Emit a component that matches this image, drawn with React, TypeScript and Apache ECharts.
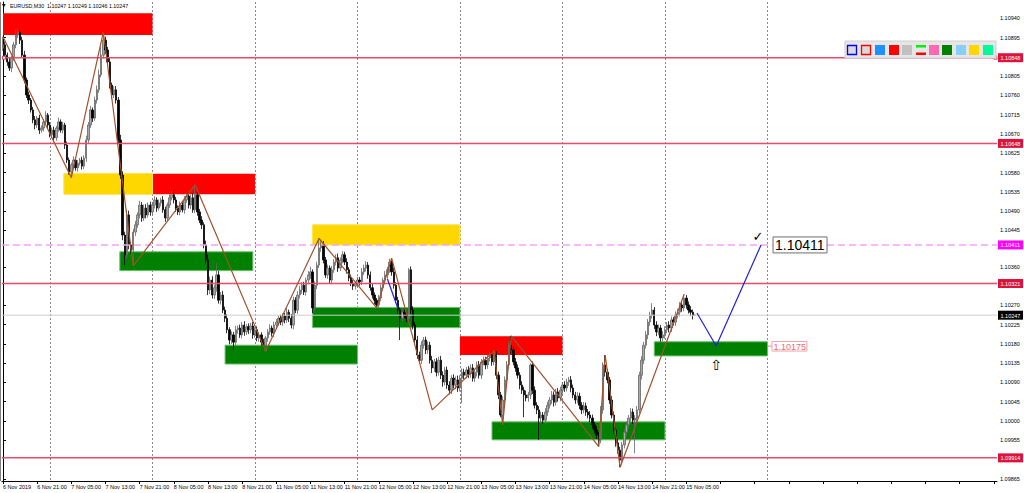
import React, { useEffect, useRef } from "react";
import * as echarts from "echarts";

const chartTitle = "EURUSD,M30  1.10247 1.10249 1.10246 1.10247";

const timeTickLabels = [
  "6 Nov 2019", "6 Nov 21:00", "7 Nov 05:00", "7 Nov 13:00", "7 Nov 21:00",
  "8 Nov 05:00", "8 Nov 13:00", "8 Nov 21:00", "11 Nov 05:00", "11 Nov 13:00",
  "11 Nov 21:00", "12 Nov 05:00", "12 Nov 13:00", "12 Nov 21:00", "13 Nov 05:00",
  "13 Nov 13:00", "13 Nov 21:00", "14 Nov 05:00", "14 Nov 13:00", "14 Nov 21:00",
  "15 Nov 05:00",
];

const yTickLabels = [
  "1.10940", "1.10895", "1.10805", "1.10760", "1.10715", "1.10670", "1.10625",
  "1.10580", "1.10535", "1.10490", "1.10445", "1.10360", "1.10270", "1.10225",
  "1.10180", "1.10135", "1.10090", "1.10045", "1.10000", "1.09955", "1.09865",
];

// candle prices in points (0.00001) above 1.10000
const firstOpenPts = 870;
const closePts = [
  878, 854, 838, 824, 847, 878, 901, 908, 889, 854,
  796, 761, 749, 726, 703, 691, 707, 679, 684, 698,
  714, 691, 668, 679, 661, 684, 698, 679, 691, 644,
  609, 581, 598, 609, 591, 602, 609, 595, 614, 656,
  691, 726, 707, 749, 773, 808, 854, 889, 866, 838,
  784, 761, 773, 749, 656, 574, 434, 388, 481, 411,
  399, 441, 458, 481, 504, 474, 497, 481, 504, 488,
  504, 516, 497, 509, 516, 493, 474, 504, 521, 528,
  516, 497, 488, 504, 493, 516, 525, 504, 521, 493,
  528, 488, 469, 458, 411, 376, 306, 329, 294, 311,
  341, 282, 294, 259, 240, 213, 189, 201, 184, 213,
  217, 201, 224, 208, 220, 213, 222, 201, 213, 194,
  201, 184, 177, 194, 208, 217, 205, 224, 231, 240,
  231, 245, 236, 254, 240, 224, 282, 259, 294, 306,
  317, 301, 329, 341, 348, 264, 317, 364, 404, 411,
  376, 341, 357, 329, 353, 371, 381, 357, 376, 388,
  371, 353, 334, 322, 315, 320, 329, 325, 348, 357,
  364, 341, 311, 294, 282, 271, 287, 311, 329, 341,
  353, 371, 348, 317, 282, 259, 240, 254, 247, 240,
  353, 259, 224, 189, 154, 142, 177, 189, 166, 177,
  142, 124, 138, 114, 142, 107, 91, 119, 84, 72,
  100, 84, 96, 77, 100, 114, 107, 119, 110, 124,
  100, 114, 131, 107, 138, 142, 131, 147, 154, 138,
  154, 107, 61, 14, 49, 96, 131, 177, 166, 138,
  124, 107, 84, 72, 61, 54, 61, 131, 72, 37,
  26, 7, 14, 2, 21, 37, 49, 61, 44, 68,
  54, 72, 84, 77, 91, 96, 77, 61, 49, 58,
  37, 26, 35, 21, 14, 7, -9, -21, -33, -44,
  26, 131, 114, 96, 49, 14, -21, -51, -68, -91,
  -56, -26, -9, 7, 21, 2, 7, 26, 107, 142,
  177, 201, 231, 247, 259, 224, 208, 217, 194, 201,
  213, 224, 217, 236, 231, 247, 254, 271, 264, 287,
  271, 259, 254, 247, 247,
];
const upperWickPts = [
  19, 8, 6, 10, 5, 7, 12, 9, 6, 8,
  10, 6, 8, 5, 7, 9, 5, 8, 6, 7,
  9, 5, 7, 6, 8, 5, 10, 6, 7, 5,
  8, 6, 5, 9, 6, 7, 5, 8, 6, 10,
  7, 9, 6, 8, 10, 12, 20, 19, 8, 7,
  10, 6, 8, 9, 7, 12, 9, 8, 12, 10,
  7, 8, 9, 6, 10, 7, 8, 9, 6, 8,
  7, 9, 6, 8, 5, 9, 7, 6, 8, 9,
  12, 7, 6, 8, 7, 9, 6, 8, 7, 10,
  23, 8, 7, 9, 6, 10, 12, 8, 9, 7,
  28, 9, 7, 10, 8, 9, 6, 8, 7, 9,
  6, 8, 7, 9, 6, 8, 7, 9, 6, 8,
  7, 6, 8, 5, 7, 9, 6, 8, 7, 6,
  8, 6, 7, 9, 6, 10, 8, 7, 9, 10,
  7, 8, 6, 9, 12, 6, 9, 8, 22, 8,
  9, 7, 8, 6, 9, 7, 8, 10, 6, 8,
  7, 9, 6, 8, 7, 6, 8, 7, 9, 8,
  9, 7, 8, 9, 6, 5, 7, 8, 6, 9,
  7, 8, 9, 10, 7, 8, 6, 9, 7, 6,
  4, 8, 9, 7, 10, 8, 9, 7, 8, 9,
  8, 10, 7, 9, 8, 10, 9, 7, 8, 9,
  7, 9, 8, 10, 7, 9, 8, 7, 9, 8,
  9, 7, 8, 9, 7, 9, 8, 7, 9, 8,
  10, 9, 8, 7, 9, 8, 9, 9, 22, 8,
  9, 8, 7, 9, 8, 10, 7, 4, 8, 9,
  7, 9, 8, 7, 9, 8, 7, 9, 8, 7,
  9, 8, 7, 9, 8, 7, 9, 8, 7, 9,
  8, 7, 9, 8, 7, 9, 8, 7, 9, 8,
  9, 6, 23, 8, 7, 9, 8, 7, 9, 8,
  7, 9, 8, 7, 9, 8, 7, 9, 8, 9,
  8, 9, 7, 8, 16, 7, 9, 8, 7, 9,
  8, 7, 9, 8, 7, 9, 8, 7, 9, 9,
  7, 8, 9, 6, 2,
];
const lowerWickPts = [
  6, 8, 9, 7, 10, 6, 8, 7, 9, 6,
  8, 7, 9, 6, 8, 10, 7, 9, 6, 8,
  7, 9, 6, 8, 10, 7, 9, 6, 8, 9,
  7, 6, 13, 8, 7, 9, 6, 8, 7, 9,
  8, 7, 9, 6, 8, 7, 6, 8, 9, 7,
  8, 9, 7, 8, 10, 9, 12, 24, 9, 10,
  8, 37, 9, 7, 8, 9, 7, 8, 6, 9,
  7, 8, 9, 6, 8, 7, 9, 8, 7, 6,
  8, 9, 7, 8, 6, 9, 7, 8, 9, 7,
  8, 9, 7, 10, 8, 9, 12, 10, 8, 9,
  9, 8, 10, 7, 9, 8, 10, 9, 18, 8,
  9, 7, 8, 9, 7, 10, 8, 9, 7, 8,
  9, 8, 6, 14, 9, 7, 8, 9, 7, 8,
  7, 9, 8, 7, 9, 8, 10, 7, 9, 8,
  9, 7, 8, 10, 9, 12, 8, 9, 7, 9,
  8, 7, 9, 8, 10, 7, 8, 9, 7, 8,
  7, 9, 8, 7, 9, 8, 7, 9, 8, 7,
  8, 9, 7, 8, 9, 7, 9, 8, 7, 9,
  8, 7, 9, 8, 7, 9, 51, 8, 7, 9,
  8, 9, 10, 8, 9, 7, 9, 8, 10, 9,
  8, 12, 9, 10, 8, 9, 11, 8, 9, 10,
  9, 8, 10, 9, 8, 58, 9, 8, 10, 9,
  8, 9, 10, 8, 9, 8, 10, 9, 8, 9,
  8, 9, 10, 5, 23, 9, 8, 10, 9, 8,
  9, 8, 10, 9, 52, 8, 9, 10, 9, 8,
  10, 51, 9, 8, 10, 9, 8, 9, 10, 8,
  9, 8, 10, 9, 8, 9, 10, 8, 9, 8,
  9, 10, 8, 9, 8, 10, 9, 8, 9, 16,
  8, 9, 10, 8, 9, 8, 10, 9, 8, 17,
  9, 8, 10, 9, 8, 9, 77, 8, 9, 10,
  9, 8, 10, 9, 8, 9, 10, 8, 9, 8,
  9, 8, 10, 9, 8, 9, 8, 10, 9, 8,
  9, 8, 9, 10, 1,
];

const resistanceLevels = [1.10848, 1.10648, 1.10321, 1.09914];
const targetLevel = 1.10411;
const bidLevel = 1.10247;
const demandLabelLevel = 1.10175;

const dayStartBars = [22, 70, 118, 166, 214, 262, 310, 358];

// zones: [fromBar, toBar, upperPrice, lowerPrice]
const redZones = [
  [0, 70, 1.10952, 1.10901],
  [70, 118, 1.10577, 1.10529],
  [214, 262, 1.10198, 1.10154],
];
const goldZones = [
  [28.5, 70, 1.10578, 1.10529],
  [145, 214, 1.10458, 1.10411],
];
const greenZones = [
  [54.7, 117, 1.10395, 1.10351],
  [104, 166, 1.10177, 1.10133],
  [145, 214, 1.10265, 1.10218],
  [229, 310, 1.09998, 1.09956],
  [305, 358, 1.10185, 1.10152],
];

const zigzagBars = [0, 32, 47, 61, 90, 123, 148, 175, 182, 201, 230, 234, 238, 279, 282, 289, 319];
const zigzagPrices = [
  1.10897, 1.10568, 1.10908, 1.10362, 1.10551, 1.10163, 1.10426, 1.10264, 1.1038,
  1.10026, 1.10164, 1.09991, 1.10199, 1.0994, 1.10154, 1.09892, 1.10296,
];

const forecastBars = [325, 334, 355];
const forecastPrices = [1.10252, 1.10175, 1.10411];
const earlierForecastBars = [180, 185];
const earlierForecastPrices = [1.10332, 1.10262];

const toolbarFills = ["#d9d9d9", "#d9d9d9", "#1e90ff", "#ff0000", "#c0c0c0", "split", "#ff69b4", "#008000", "#87cefa", "#ffd700", "#00fa9a"];
const toolbarStrokes = ["#0000ff", "#ff0000", "", "", "", "", "", "", "", "", ""];

const Y_MIN = 1.0986;
const Y_MAX = 1.10978;
const SLOTS = 466;
const SMALL_FONT = "'Liberation Sans', Arial, sans-serif";

const levelStyles = [
  { stroke: "#ee4a6a", width: 1.5, dash: null as number[] | null, bg: "#dc143c" },
  { stroke: "#f5a3f5", width: 1.4, dash: [7, 4], bg: "#ff00ff" },
  { stroke: "#cccccc", width: 1, dash: null as number[] | null, bg: "#000000" },
];

const toPrice = (p: number) => +(1.1 + p / 100000).toFixed(5);

export default function App() {
  const ref = useRef<HTMLDivElement>(null);

  useEffect(() => {
    document.body.style.margin = "0";
    const chart = echarts.init(ref.current!, null, { renderer: "svg" });

    const candleData = closePts.map((c, i) => {
      const o = i === 0 ? firstOpenPts : closePts[i - 1];
      const h = Math.max(o, c) + upperWickPts[i];
      const l = Math.min(o, c) - lowerWickPts[i];
      return [toPrice(o), toPrice(c), toPrice(l), toPrice(h)];
    });

    const categories = Array.from({ length: SLOTS }, (_, i) => String(i));

    const zoneSeries = (data: number[][], fill: string, stroke: string) => ({
      type: "custom",
      xAxisIndex: 1,
      yAxisIndex: 0,
      z: 1,
      silent: true,
      encode: { x: [0, 1], y: [2, 3] },
      renderItem: (_p: any, api: any) => {
        const a = api.coord([api.value(0), api.value(2)]);
        const b = api.coord([api.value(1), api.value(3)]);
        return {
          type: "rect",
          shape: { x: a[0], y: a[1], width: b[0] - a[0], height: b[1] - a[1] },
          style: { fill, stroke: stroke || null, lineWidth: stroke ? 1 : 0 },
        };
      },
      data,
    });

    const levelData = [
      ...resistanceLevels.map((v) => [v, 0]),
      [targetLevel, 1],
      [bidLevel, 2],
    ];

    const option: any = {
      animation: false,
      grid: { left: 1, top: 2, width: 996, height: 479, containLabel: false },
      xAxis: [
        {
          type: "category",
          data: categories,
          boundaryGap: true,
          axisLine: { show: true, lineStyle: { color: "#000", width: 1 } },
          axisTick: { show: true, interval: 15, alignWithLabel: true, length: 3, lineStyle: { color: "#000" } },
          axisLabel: {
            interval: 15,
            formatter: (_v: string, idx: number) => timeTickLabels[idx / 16] ?? "",
            align: "left",
            fontSize: 5.5,
            color: "#000",
            margin: 3,
            fontFamily: SMALL_FONT,
          },
          splitLine: { show: false },
        },
        { type: "value", min: -0.5, max: SLOTS - 0.5, show: false },
      ],
      yAxis: {
        type: "value",
        position: "right",
        min: Y_MIN,
        max: Y_MAX,
        splitLine: { show: false },
        axisLine: { show: true, lineStyle: { color: "#000", width: 1 } },
        axisTick: { show: true, length: 3, customValues: yTickLabels.map(Number), lineStyle: { color: "#000" } },
        axisLabel: {
          customValues: yTickLabels.map(Number),
          formatter: (v: number) => v.toFixed(5),
          fontSize: 5.5,
          color: "#000",
          margin: 3,
          fontFamily: SMALL_FONT,
        },
      },
      series: [
        {
          type: "custom",
          xAxisIndex: 1,
          yAxisIndex: 0,
          z: 0,
          silent: true,
          encode: { x: 0, y: 1 },
          renderItem: (_p: any, api: any) => {
            const a = api.coord([api.value(0), Y_MAX]);
            const b = api.coord([api.value(0), Y_MIN]);
            const x = Math.round(a[0]) + 0.5;
            return {
              type: "line",
              shape: { x1: x, y1: a[1], x2: x, y2: b[1] },
              style: { stroke: "#8a8a8a", lineWidth: 1, lineDash: [2, 2] },
            };
          },
          data: dayStartBars.map((b) => [b, Y_MIN]),
        },
        zoneSeries(redZones, "#ff0000", ""),
        zoneSeries(goldZones, "#ffd700", "#ffe34d"),
        zoneSeries(greenZones, "#008000", "#6cbf6c"),
        {
          type: "candlestick",
          xAxisIndex: 0,
          yAxisIndex: 0,
          z: 2,
          silent: true,
          barWidth: 1.9,
          data: candleData,
          itemStyle: {
            color: "#a8a8a8",
            color0: "#000000",
            borderColor: "#666666",
            borderColor0: "#000000",
            borderWidth: 0.8,
          },
        },
        {
          type: "line",
          xAxisIndex: 1,
          yAxisIndex: 0,
          z: 4,
          silent: true,
          symbol: "none",
          lineStyle: { color: "#a0522d", width: 1.2 },
          data: zigzagBars.map((b, i) => [b, zigzagPrices[i]]),
        },
        {
          type: "custom",
          xAxisIndex: 1,
          yAxisIndex: 0,
          z: 3,
          silent: true,
          clip: false,
          encode: { x: 1, y: 0 },
          renderItem: (_p: any, api: any) => {
            const price = api.value(0);
            const st = levelStyles[api.value(1)];
            const a = api.coord([-0.5, price]);
            const b = api.coord([SLOTS - 0.5, price]);
            return {
              type: "group",
              children: [
                {
                  type: "line",
                  shape: { x1: a[0], y1: a[1], x2: b[0], y2: b[1] },
                  style: { stroke: st.stroke, lineWidth: st.width, lineDash: st.dash },
                },
                {
                  type: "rect",
                  shape: { x: b[0] + 1, y: b[1] - 4.5, width: 25, height: 9 },
                  style: { fill: st.bg },
                },
                {
                  type: "text",
                  x: b[0] + 3.5,
                  y: b[1] + 0.5,
                  style: { text: price.toFixed(5), fill: "#ffffff", fontSize: 5.5, verticalAlign: "middle", fontFamily: SMALL_FONT },
                },
              ],
            };
          },
          data: levelData,
        },
        {
          type: "line",
          xAxisIndex: 1,
          yAxisIndex: 0,
          z: 5,
          silent: true,
          symbol: "none",
          lineStyle: { color: "#2020e0", width: 1.2 },
          data: forecastBars.map((b, i) => [b, forecastPrices[i]]),
        },
        {
          type: "line",
          xAxisIndex: 1,
          yAxisIndex: 0,
          z: 5,
          silent: true,
          symbol: "none",
          lineStyle: { color: "#2020e0", width: 1.2 },
          data: earlierForecastBars.map((b, i) => [b, earlierForecastPrices[i]]),
        },
      ],
    };

    chart.setOption(option);

    const px = (bar: number, price: number) =>
      chart.convertToPixel({ seriesIndex: 5 }, [bar, price]) as unknown as number[];

    const end = px(forecastBars[2], forecastPrices[2]);
    const dz = px(358, demandLabelLevel);
    const arrowAt = px(forecastBars[1], 1.10152);
    const lvlL = px(0, resistanceLevels[0]);
    const lvlR = px(SLOTS - 1, resistanceLevels[0]);

    const toolbar: any[] = [
      { type: "rect", shape: { x: 845, y: 41, width: 151, height: 17 }, style: { fill: "#e6e6e6", stroke: "#d0d0d0", lineWidth: 1 } },
    ];
    const iconX = [847, 861, 875, 889, 902, 916, 929, 942, 956, 969, 983];
    toolbarFills.forEach((f, i) => {
      if (f === "split") {
        toolbar.push({ type: "rect", shape: { x: iconX[i], y: 45, width: 10, height: 2.5 }, style: { fill: "#00ee00" } });
        toolbar.push({ type: "rect", shape: { x: iconX[i], y: 52.5, width: 10, height: 2.5 }, style: { fill: "#ff0000" } });
      } else {
        const s = toolbarStrokes[i];
        toolbar.push({
          type: "rect",
          shape: { x: iconX[i] + (s ? 0.5 : 0), y: 45 + (s ? 0.5 : 0), width: s ? 9 : 10, height: s ? 9 : 10 },
          style: { fill: f, stroke: s || null, lineWidth: s ? 1.3 : 0 },
        });
      }
    });

    chart.setOption({
      graphic: [
        { type: "line", shape: { x1: 0.5, y1: 2, x2: 0.5, y2: 481 }, style: { stroke: "#808080", lineWidth: 1 }, z: 10 },
        { type: "text", x: 2, y: 3, style: { text: "▼", fontSize: 4.5, fill: "#000", fontFamily: "DejaVu Sans" }, z: 10 },
        { type: "text", x: 10, y: 3, style: { text: chartTitle, fontSize: 5.3, fill: "#000", fontFamily: SMALL_FONT }, z: 10 },
        { type: "rect", shape: { x: lvlL[0] - 0.5, y: lvlL[1] - 1.5, width: 3, height: 3 }, style: { fill: "#fff", stroke: "#dc143c", lineWidth: 0.8 }, z: 10 },
        { type: "rect", shape: { x: lvlR[0] - 2, y: lvlR[1] - 1.5, width: 3, height: 3 }, style: { fill: "#fff", stroke: "#dc143c", lineWidth: 0.8 }, z: 10 },
        ...toolbar.map((t) => ({ ...t, z: 10 })),
        { type: "text", x: end[0] - 3, y: end[1] - 8, style: { text: "✓", fontSize: 13, fill: "#000", align: "center", verticalAlign: "middle", fontFamily: "DejaVu Sans" }, z: 10 },
        { type: "rect", shape: { x: end[0] + 12, y: end[1] - 8, width: 54, height: 16 }, style: { fill: "#fff", stroke: "#707070", lineWidth: 1 }, z: 10 },
        { type: "text", x: end[0] + 14, y: end[1], style: { text: targetLevel.toFixed(5), fontSize: 14, fill: "#000", verticalAlign: "middle", fontFamily: "'Liberation Sans', Arial, sans-serif" }, z: 11 },
        { type: "line", shape: { x1: dz[0], y1: dz[1], x2: dz[0] + 4.5, y2: dz[1] }, style: { stroke: "#f08080", lineWidth: 1 }, z: 10 },
        { type: "rect", shape: { x: dz[0] + 4.5, y: dz[1] - 4.5, width: 35, height: 9.5 }, style: { fill: "#fff", stroke: "#f4a3a3", lineWidth: 1 }, z: 10 },
        { type: "text", x: dz[0] + 6, y: dz[1] + 0.5, style: { text: demandLabelLevel.toFixed(5), fontSize: 9, fill: "#f06a6a", verticalAlign: "middle", fontFamily: "'Liberation Sans', Arial, sans-serif" }, z: 11 },
        { type: "text", x: arrowAt[0], y: arrowAt[1] + 9, style: { text: "⇧", fontSize: 14, fill: "#000", align: "center", verticalAlign: "middle", fontFamily: "DejaVu Sans" }, z: 10 },
      ],
    });

    return () => chart.dispose();
  }, []);

  return <div ref={ref} style={{ width: 1024, height: 493 }} />;
}
